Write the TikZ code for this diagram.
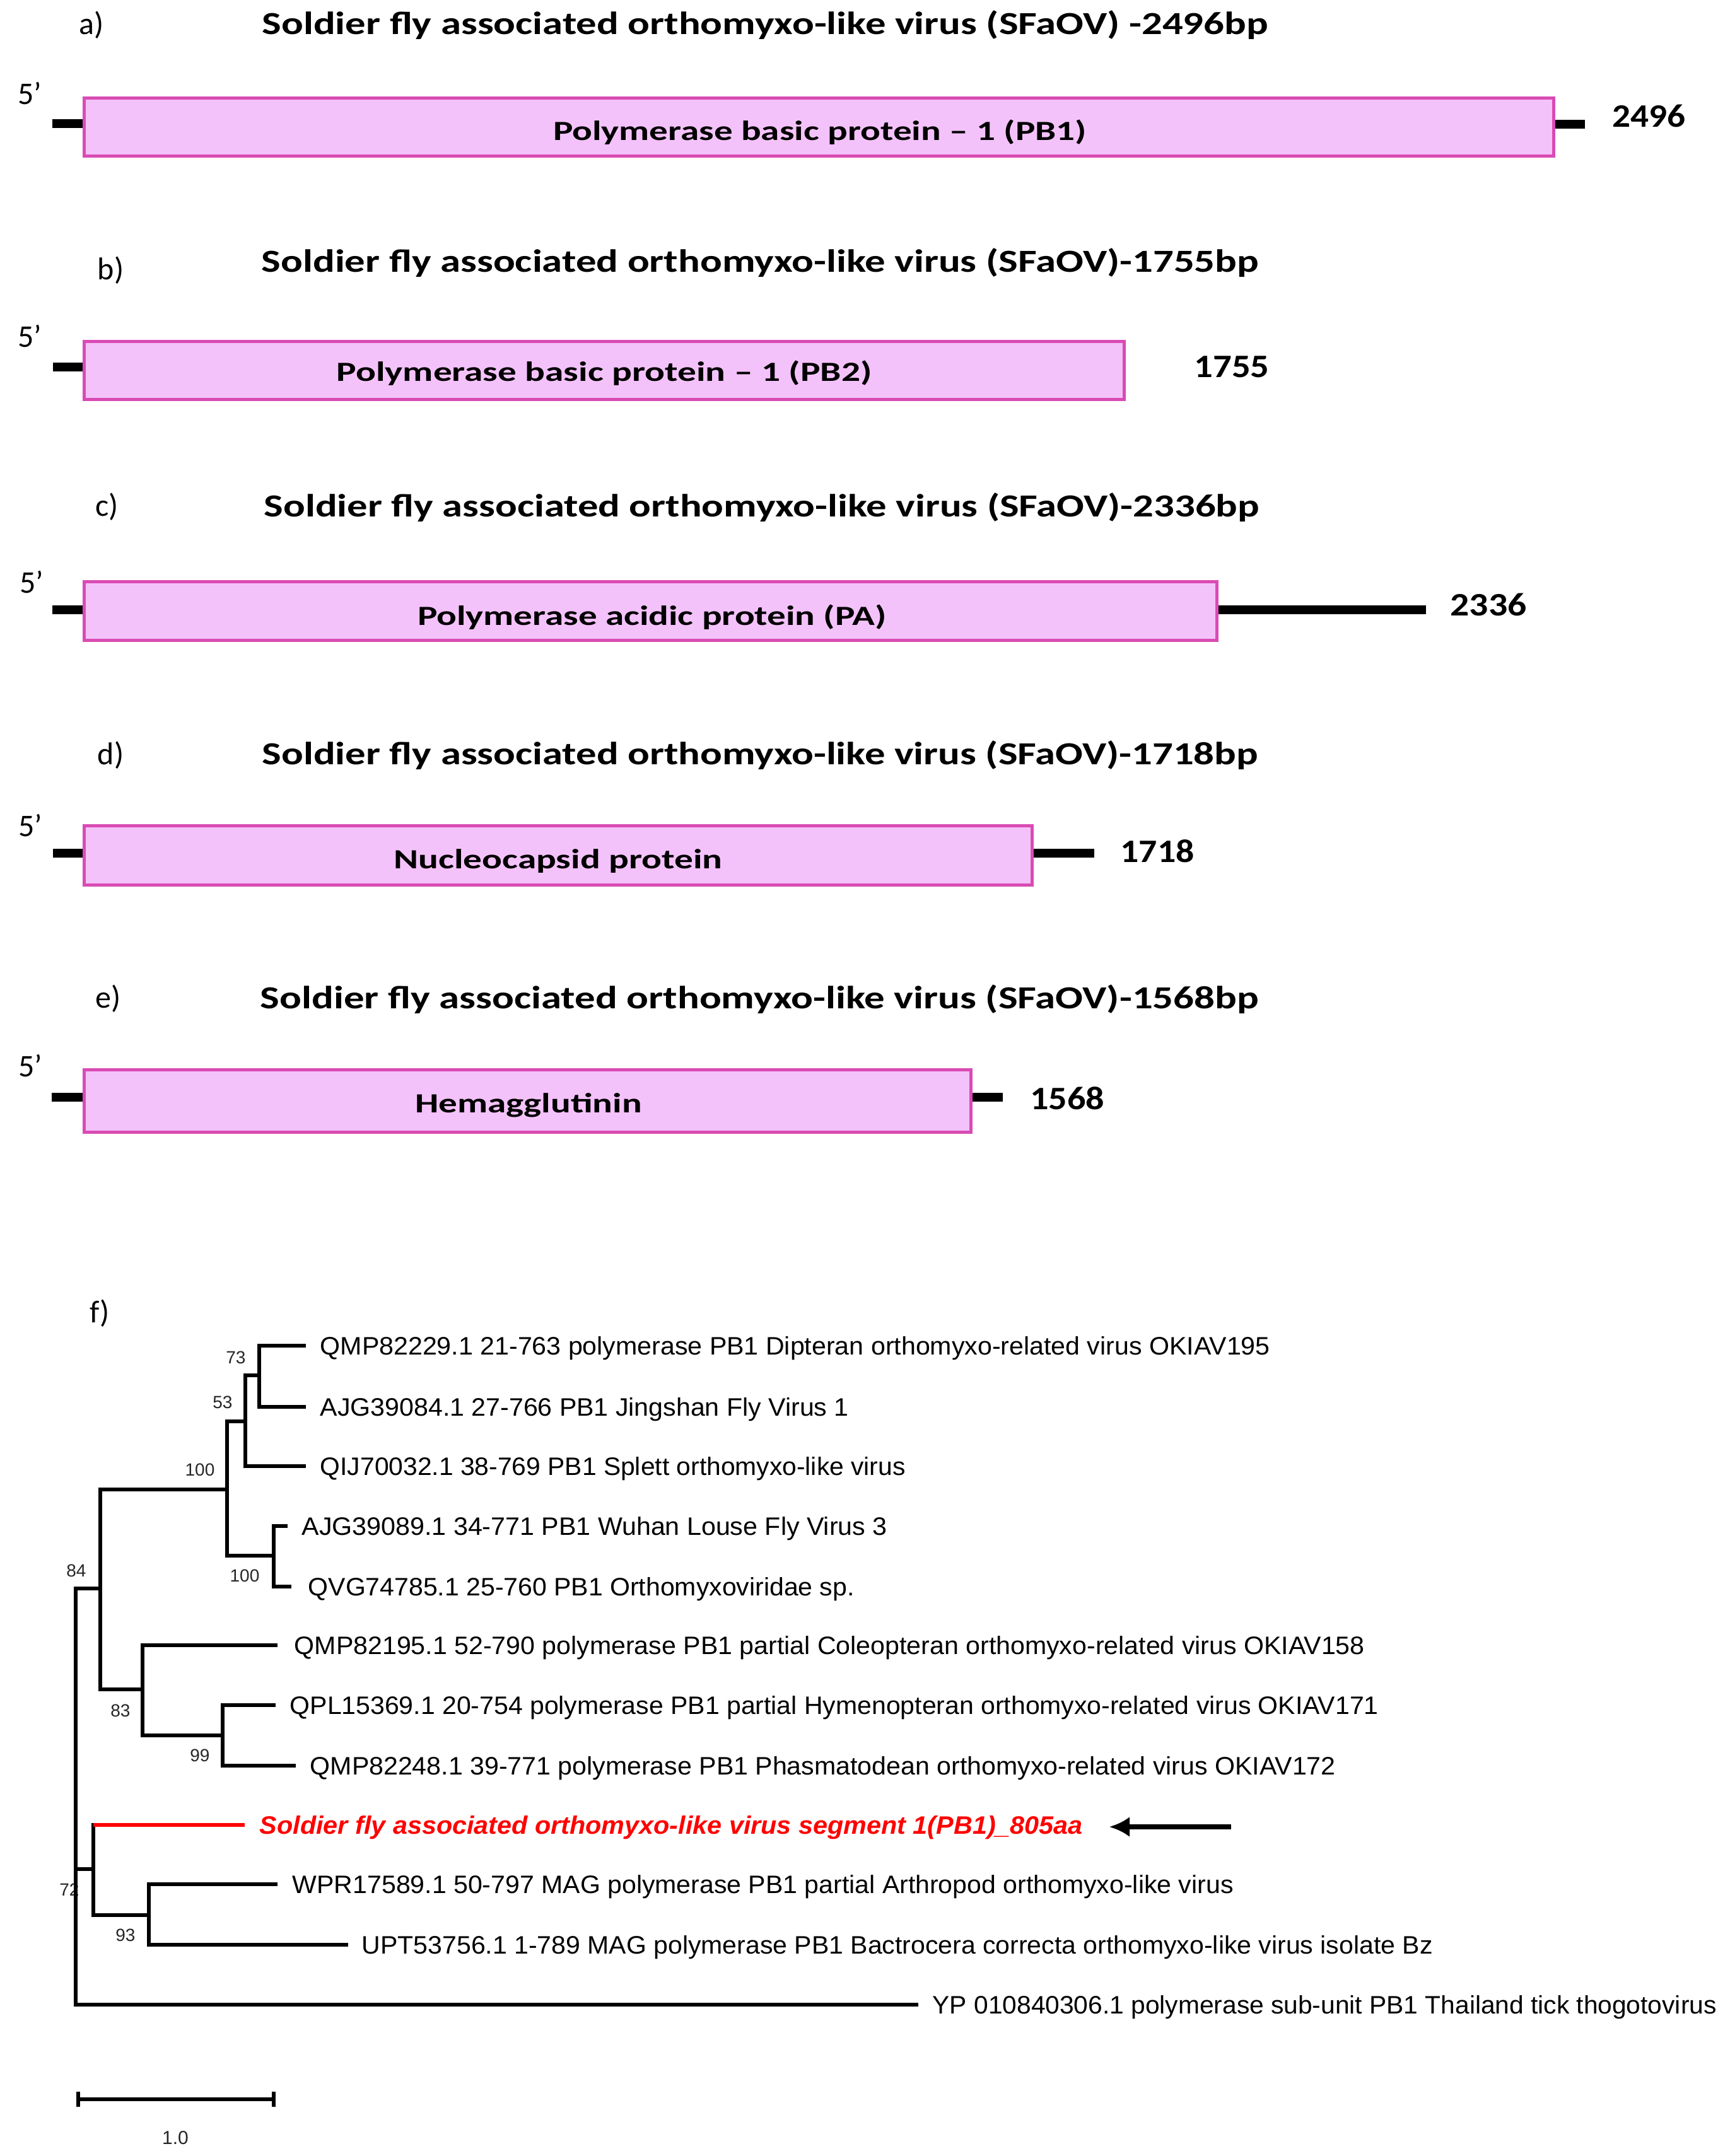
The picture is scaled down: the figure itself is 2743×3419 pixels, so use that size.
\documentclass[tikz,border=0pt]{standalone}
\usepackage{fontspec}
\setmainfont{Carlito}
\newfontfamily\arialf{Liberation Sans}
\usetikzlibrary{arrows.meta}
\definecolor{genefill}{RGB}{244,194,250}
\definecolor{genebord}{RGB}{217,75,180}
\definecolor{virred}{RGB}{255,0,0}
\newsavebox\myfitbox
\newcommand\fitx[2]{\sbox\myfitbox{#2}\pgfmathsetmacro\myfitscale{#1*0.25/\the\wd\myfitbox}\scalebox{\myfitscale}[1]{\usebox\myfitbox}}
\begin{document}
\begin{tikzpicture}[x=0.25pt,y=-0.25pt,
  gene/.style={draw=genebord,fill=genefill,line width=1.25pt,inner sep=0pt,rectangle},
  stub/.style={line width=3.4pt},
  ttl/.style={inner sep=0pt,anchor=base west,font=\bfseries\fontsize{12.75}{15}\selectfont},
  plab/.style={inner sep=0pt,anchor=base west,font=\fontsize{12.5}{15}\selectfont},
  fivep/.style={inner sep=0pt,anchor=base,font=\fontsize{12.5}{14}\selectfont},
  glab/.style={inner sep=0pt,anchor=base,font=\bfseries\fontsize{11}{13}\selectfont},
  glen/.style={inner sep=0pt,anchor=center,font=\bfseries\fontsize{13}{15}\selectfont},
  br/.style={line width=1.5pt,line join=miter},
  tiplab/.style={inner sep=0pt,anchor=base west,font=\arialf\fontsize{10}{12}\selectfont},
  boot/.style={inner sep=0pt,anchor=center,font=\arialf\fontsize{7}{8}\selectfont,text=black!85},
]
\path[use as bounding box] (0,0) rectangle (2743,3419);

% ---------- panel a ----------
\node[plab] (pa) at (125,54) {a)};
\node[ttl] (ta) at (415,54) {\fitx{1595}{Soldier fly associated orthomyxo-like virus (SFaOV) -2496bp}};
\node[fivep] (fa) at (47,165) {5’};
\node[gene,minimum width=2330*0.25pt,minimum height=92*0.25pt] (ga) at (1298.5,201.5) {};
\node[glab] (la) at (1300,222) {\fitx{846}{Polymerase basic protein – 1 (PB1)}};
\coordinate (sa1) at (83,196);
\coordinate (sa2) at (2513,197);
\draw[stub] (sa1) -- (sa1 -| ga.west);
\draw[stub] (sa2 -| ga.east) -- (sa2);
\node[glen] (na) at (2614,184) {\fitx{116}{2496}};

% ---------- panel b ----------
\node[plab] (pb) at (154,443) {b)};
\node[ttl] (tb) at (414,431) {\fitx{1581}{Soldier fly associated orthomyxo-like virus (SFaOV)-1755bp}};
\node[fivep] (fb) at (47,550) {5’};
\node[gene,minimum width=1649*0.25pt,minimum height=92*0.25pt] (gb) at (958,587.5) {};
\node[glab] (lb) at (958,604) {\fitx{849}{Polymerase basic protein – 1 (PB2)}};
\coordinate (sb1) at (84,582);
\draw[stub] (sb1) -- (sb1 -| gb.west);
\node[glen] (nb) at (1953,582) {\fitx{119}{1755}};

% ---------- panel c ----------
\node[plab] (pc) at (151,818) {c)};
\node[ttl] (tc) at (418,819) {\fitx{1578}{Soldier fly associated orthomyxo-like virus (SFaOV)-2336bp}};
\node[fivep] (fc) at (50,940) {5’};
\node[gene,minimum width=1796*0.25pt,minimum height=93*0.25pt] (gc) at (1031.5,969) {};
\node[glab] (lc) at (1034,991) {\fitx{744}{Polymerase acidic protein (PA)}};
\coordinate (sc1) at (83,967);
\coordinate (sc2) at (2261,967);
\draw[stub] (sc1) -- (sc1 -| gc.west);
\draw[stub,line width=3.7pt] (sc2 -| gc.east) -- (sc2);
\node[glen] (nc) at (2360,959) {\fitx{121}{2336}};

% ---------- panel d ----------
\node[plab] (pd) at (154,1212) {d)};
\node[ttl] (td) at (415,1212) {\fitx{1579}{Soldier fly associated orthomyxo-like virus (SFaOV)-1718bp}};
\node[fivep] (fd) at (48,1326) {5’};
\node[gene,minimum width=1503*0.25pt,minimum height=94*0.25pt] (gd) at (885,1356.5) {};
\node[glab] (ld) at (885,1377) {\fitx{521}{Nucleocapsid protein}};
\coordinate (sd1) at (84,1353);
\coordinate (sd2) at (1735,1353);
\draw[stub] (sd1) -- (sd1 -| gd.west);
\draw[stub] (sd2 -| gd.east) -- (sd2);
\node[glen] (nd) at (1835,1350) {\fitx{117}{1718}};

% ---------- panel e ----------
\node[plab] (pe) at (151,1598) {e)};
\node[ttl] (te) at (412,1599) {\fitx{1583}{Soldier fly associated orthomyxo-like virus (SFaOV)-1568bp}};
\node[fivep] (fe) at (48,1707) {5’};
\node[gene,minimum width=1406*0.25pt,minimum height=99*0.25pt] (ge) at (836.5,1746) {};
\node[glab] (le) at (838,1764) {\fitx{360}{Hemagglutinin}};
\coordinate (se1) at (82,1740);
\coordinate (se2) at (1590,1740);
\draw[stub] (se1) -- (se1 -| ge.west);
\draw[stub] (se2 -| ge.east) -- (se2);
\node[glen] (ne) at (1692,1742) {\fitx{118}{1568}};

% ---------- panel f : tree ----------
\node[plab] (pf) at (142,2097) {f)};

% bootstrap values (drawn first, branches may overlap them)
\node[boot] (b73) at (374,2153) {73};
\node[boot] (b53) at (353,2224) {53};
\node[boot] (b100a) at (317,2331) {100};
\node[boot] (b84) at (121,2491) {84};
\node[boot] (b100b) at (388,2499) {100};
\node[boot] (b83) at (191,2713) {83};
\node[boot] (b99) at (317,2784) {99};
\node[boot] (b72) at (110,2997) {72};
\node[boot] (b93) at (199,3069) {93};

% internal nodes
\coordinate (root) at (120,2964);
\coordinate (n84) at (159,2519);
\coordinate (n100a) at (360,2362);
\coordinate (n53) at (389,2254);
\coordinate (n73) at (411,2181);
\coordinate (n100b) at (434,2467);
\coordinate (n83) at (226,2679);
\coordinate (n99) at (353,2752);
\coordinate (n72) at (148,2964);
\coordinate (n93) at (236,3037);
% tips
\coordinate (e1) at (485,2134);
\coordinate (e2) at (485,2231);
\coordinate (e3) at (485,2325);
\coordinate (e4) at (456,2420);
\coordinate (e5) at (462,2516);
\coordinate (e6) at (440,2609);
\coordinate (e7) at (437,2704);
\coordinate (e8) at (469,2800);
\coordinate (e9) at (388,2894);
\coordinate (e10) at (440,2988);
\coordinate (e11) at (552,3084);
\coordinate (e12) at (1456,3179);

\draw[br] (root) |- (n84);
\draw[br] (root) |- (n72);
\draw[br] (root) |- (e12);
\draw[br] (n84) |- (n100a);
\draw[br] (n84) |- (n83);
\draw[br] (n100a) |- (n53);
\draw[br] (n100a) |- (n100b);
\draw[br] (n53) |- (n73);
\draw[br] (n53) |- (e3);
\draw[br] (n73) |- (e1);
\draw[br] (n73) |- (e2);
\draw[br] (n100b) |- (e4);
\draw[br] (n100b) |- (e5);
\draw[br] (n83) |- (e6);
\draw[br] (n83) |- (n99);
\draw[br] (n99) |- (e7);
\draw[br] (n99) |- (e8);
\draw[br,line cap=rect] (n72) -- (n72 |- e9);
\draw[br,virred] (n72 |- e9) -- (e9);
\draw[br] (n72) |- (n93);
\draw[br] (n93) |- (e10);
\draw[br] (n93) |- (e11);

% tip labels
\node[tiplab] (l1) at (507,2148) {\fitx{1506}{QMP82229.1 21-763 polymerase PB1 Dipteran orthomyxo-related virus OKIAV195}};
\node[tiplab] (l2) at (507,2245) {\fitx{838}{AJG39084.1 27-766 PB1 Jingshan Fly Virus 1}};
\node[tiplab] (l3) at (507,2339) {\fitx{928}{QIJ70032.1 38-769 PB1 Splett orthomyxo-like virus}};
\node[tiplab] (l4) at (478,2434) {\fitx{928}{AJG39089.1 34-771 PB1 Wuhan Louse Fly Virus 3}};
\node[tiplab] (l5) at (488,2530) {\fitx{866}{QVG74785.1 25-760 PB1 Orthomyxoviridae sp.}};
\node[tiplab] (l6) at (466,2623) {\fitx{1697}{QMP82195.1 52-790 polymerase PB1 partial Coleopteran orthomyxo-related virus OKIAV158}};
\node[tiplab] (l7) at (459,2718) {\fitx{1726}{QPL15369.1 20-754 polymerase PB1 partial Hymenopteran orthomyxo-related virus OKIAV171}};
\node[tiplab] (l8) at (491,2814) {\fitx{1626}{QMP82248.1 39-771 polymerase PB1 Phasmatodean orthomyxo-related virus OKIAV172}};
\node[tiplab,text=virred] (l9) at (411,2908) {\fitx{1305}{\bfseries\itshape Soldier fly associated orthomyxo-like virus segment 1(PB1)\_805aa}};
\node[tiplab] (l10) at (463,3002) {\fitx{1492}{WPR17589.1 50-797 MAG polymerase PB1 partial Arthropod orthomyxo-like virus}};
\node[tiplab] (l11) at (573,3098) {\fitx{1698}{UPT53756.1 1-789 MAG polymerase PB1 Bactrocera correcta orthomyxo-like virus isolate Bz}};
\node[tiplab] (l12) at (1478,3193) {\fitx{1243}{YP 010840306.1 polymerase sub-unit PB1 Thailand tick thogotovirus}};

% arrow pointing at the new virus
\coordinate (arrtail) at (1952,2897);
\coordinate (arrhead) at (1759,2897);
\draw[line width=1.8pt,-{Latex[length=8pt,width=8pt]}] (arrtail) -- (arrhead);

% scale bar
\coordinate (sbar1) at (124,3329);
\coordinate (sbar2) at (434,3329);
\draw[br] (sbar1) -- (sbar2);
\draw[br] ([yshift=3pt]sbar1) -- ([yshift=-3pt]sbar1);
\draw[br] ([yshift=3pt]sbar2) -- ([yshift=-3pt]sbar2);
\node[boot,font=\arialf\fontsize{7.5}{9}\selectfont] (sblab) at (278,3390) {1.0};
\end{tikzpicture}
\end{document}
